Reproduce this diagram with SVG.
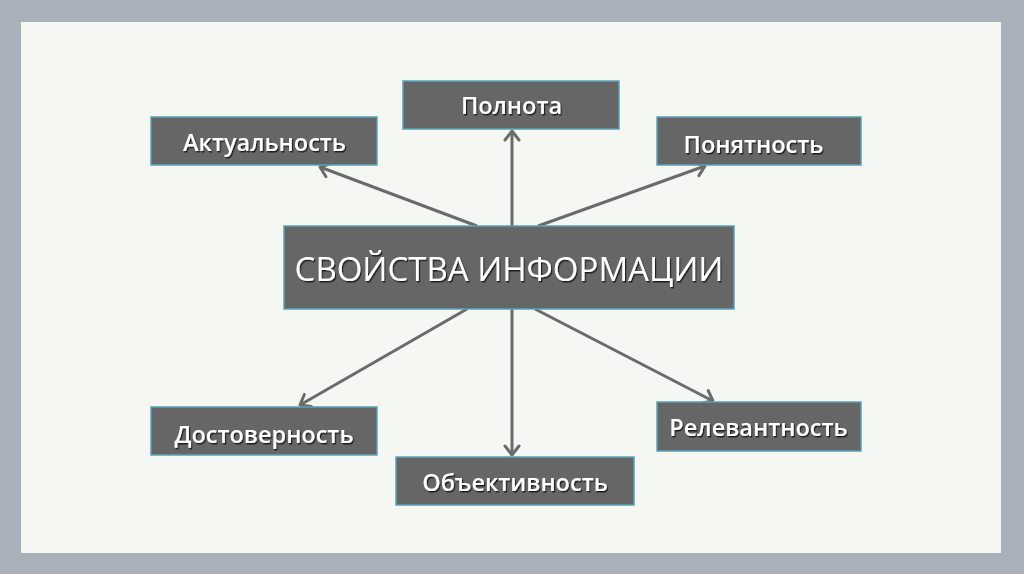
<svg xmlns="http://www.w3.org/2000/svg" width="1024" height="574" viewBox="0 0 1024 574">
<style>
.box{fill:#666666;stroke:#5aa3b8;stroke-width:1.5}
.lbl{font-family:"Open Sans","Noto Sans","DejaVu Sans",sans-serif;font-weight:600;fill:#ffffff;text-anchor:middle;filter:url(#sh)}
.l{font-size:23.5px}
.t{font-size:33px;font-weight:500}
.ar{stroke:#6b6b6b;stroke-width:3;fill:none;marker-end:url(#ah)}
</style>
<defs>
<filter id="sh" x="-10%" y="-30%" width="120%" height="160%">
<feDropShadow dx="1.2" dy="1.5" stdDeviation="0.7" flood-color="#000" flood-opacity="0.7"/>
</filter>
<marker id="ah" markerUnits="userSpaceOnUse" markerWidth="20" markerHeight="20" refX="12" refY="8" orient="auto" viewBox="0 0 20 16">
<path d="M3,1 L12,8 L3,15" fill="none" stroke="#6b6b6b" stroke-width="3" stroke-linecap="round" stroke-linejoin="round"/>
</marker>
</defs>
<rect x="0" y="0" width="1024" height="574" fill="#aab0ba"/>
<rect x="21" y="22" width="980" height="531" fill="#f5f7f3"/>
<g id="connectors">
<line class="ar" x1="512" y1="226" x2="512" y2="131"/>
<line class="ar" x1="477" y1="226" x2="320" y2="167"/>
<line class="ar" x1="538" y1="226" x2="705" y2="166"/>
<line class="ar" x1="512" y1="309" x2="512" y2="455"/>
<line class="ar" x1="467" y1="309" x2="300" y2="405"/>
<line class="ar" x1="535" y1="309" x2="713" y2="401"/>
</g>
<g id="center">
<rect class="box" x="284" y="226" width="450" height="83"/>
<text class="lbl t" x="509" y="281">СВОЙСТВА ИНФОРМАЦИИ</text>
</g>
<g id="polnota">
<rect class="box" x="403" y="81" width="216" height="48"/>
<text class="lbl l" x="511.5" y="114">Полнота</text>
</g>
<g id="aktualnost">
<rect class="box" x="151" y="117" width="226" height="48"/>
<text class="lbl l" x="264.5" y="151">Актуальность</text>
</g>
<g id="ponyatnost">
<rect class="box" x="657" y="117" width="204" height="48"/>
<text class="lbl l" x="753.5" y="153">Понятность</text>
</g>
<g id="dostovernost">
<rect class="box" x="151" y="407" width="226" height="48"/>
<text class="lbl l" x="264" y="443">Достоверность</text>
</g>
<g id="obektivnost">
<rect class="box" x="396" y="457" width="238" height="48"/>
<text class="lbl l" x="515" y="491">Объективность</text>
</g>
<g id="relevantnost">
<rect class="box" x="657" y="402" width="204" height="49"/>
<text class="lbl l" x="758.5" y="436">Релевантность</text>
</g>
</svg>
